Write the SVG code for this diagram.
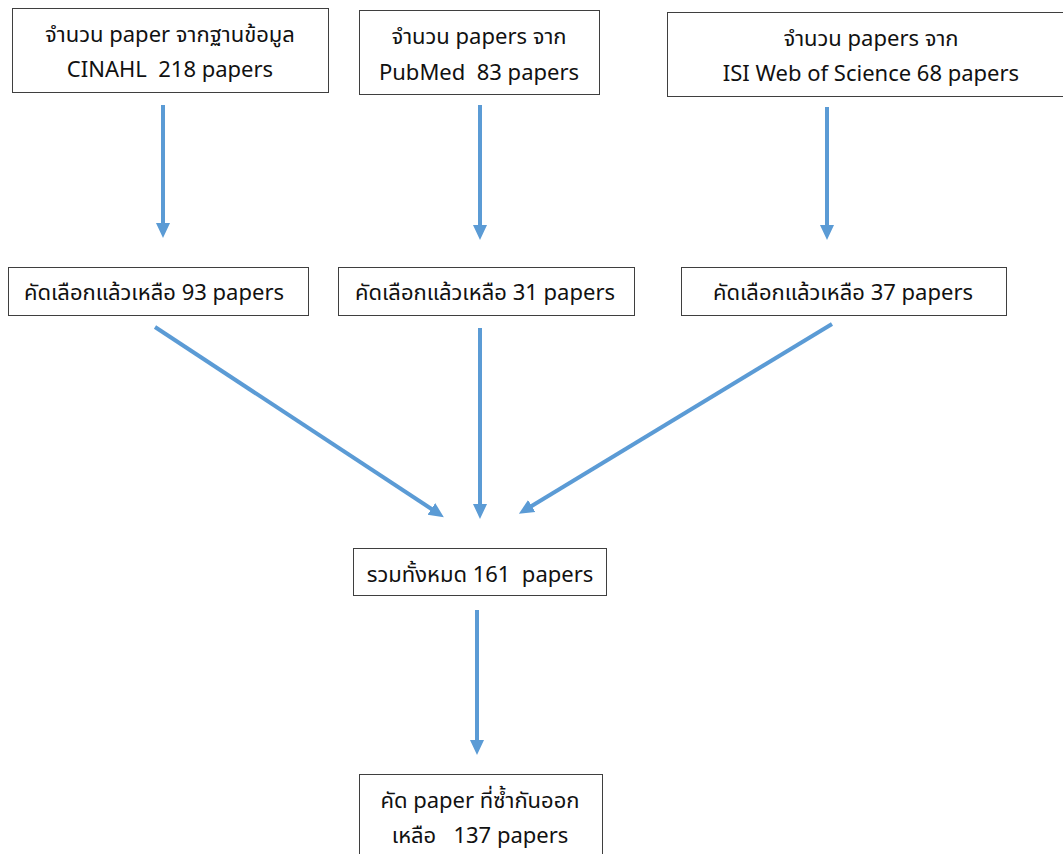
<svg xmlns="http://www.w3.org/2000/svg" width="1063" height="854" viewBox="0 0 1063 854">
<style>
.box{fill:#fff;stroke:#3f3f3f;stroke-width:1}
.t{font-family:"Noto Sans Thai","Noto Sans","DejaVu Sans",sans-serif;font-size:22px;fill:#111;text-anchor:middle}
.c{stroke:#5B9BD5;stroke-width:4;fill:none;marker-end:url(#ah)}
</style>
<defs>
<marker id="ah" markerUnits="userSpaceOnUse" markerWidth="16" markerHeight="16" viewBox="0 0 16 16" refX="2" refY="8" orient="auto">
<path d="M0,1 L15,8 L0,15 Z" fill="#5B9BD5"/>
</marker>
</defs>
<rect width="1063" height="854" fill="#fff"/>
<g id="connectors">
<line class="c" x1="163" y1="105" x2="163" y2="225"/>
<line class="c" x1="480" y1="105" x2="480" y2="227"/>
<line class="c" x1="827" y1="107" x2="827" y2="227"/>
<line class="c" x1="155" y1="327" x2="433" y2="510"/>
<line class="c" x1="480" y1="328" x2="480" y2="506"/>
<line class="c" x1="832" y1="324" x2="530" y2="507"/>
<line class="c" x1="477" y1="610" x2="477" y2="742"/>
</g>
<g id="n1"><rect class="box" x="12.5" y="8.5" width="316" height="84"/>
<text class="t" x="170" y="42">จำนวน paper จากฐานข้อมูล</text>
<text class="t" x="170" y="77" xml:space="preserve">CINAHL  218 papers</text></g>
<g id="n2"><rect class="box" x="359.5" y="10.5" width="240" height="84"/>
<text class="t" x="479" y="44">จำนวน papers จาก</text>
<text class="t" x="479" y="80" xml:space="preserve">PubMed  83 papers</text></g>
<g id="n3"><rect class="box" x="667.5" y="12.5" width="400" height="84"/>
<text class="t" x="871" y="46">จำนวน papers จาก</text>
<text class="t" x="871" y="81">ISI Web of Science 68 papers</text></g>
<g id="n4"><rect class="box" x="8.5" y="267.5" width="300" height="48"/>
<text class="t" x="154" y="300">คัดเลือกแล้วเหลือ 93 papers</text></g>
<g id="n5"><rect class="box" x="338.5" y="267.5" width="296" height="48"/>
<text class="t" x="485" y="300">คัดเลือกแล้วเหลือ 31 papers</text></g>
<g id="n6"><rect class="box" x="681.5" y="267.5" width="325" height="48"/>
<text class="t" x="843" y="300">คัดเลือกแล้วเหลือ 37 papers</text></g>
<g id="n7"><rect class="box" x="353.5" y="548.5" width="253" height="47"/>
<text class="t" x="480" y="582" xml:space="preserve">รวมทั้งหมด 161  papers</text></g>
<g id="n8"><rect class="box" x="359.5" y="774.5" width="243" height="100"/>
<text class="t" x="480" y="808">คัด paper ที่ซ้ำกันออก</text>
<text class="t" x="480" y="843" xml:space="preserve">เหลือ   137 papers</text></g>
</svg>
